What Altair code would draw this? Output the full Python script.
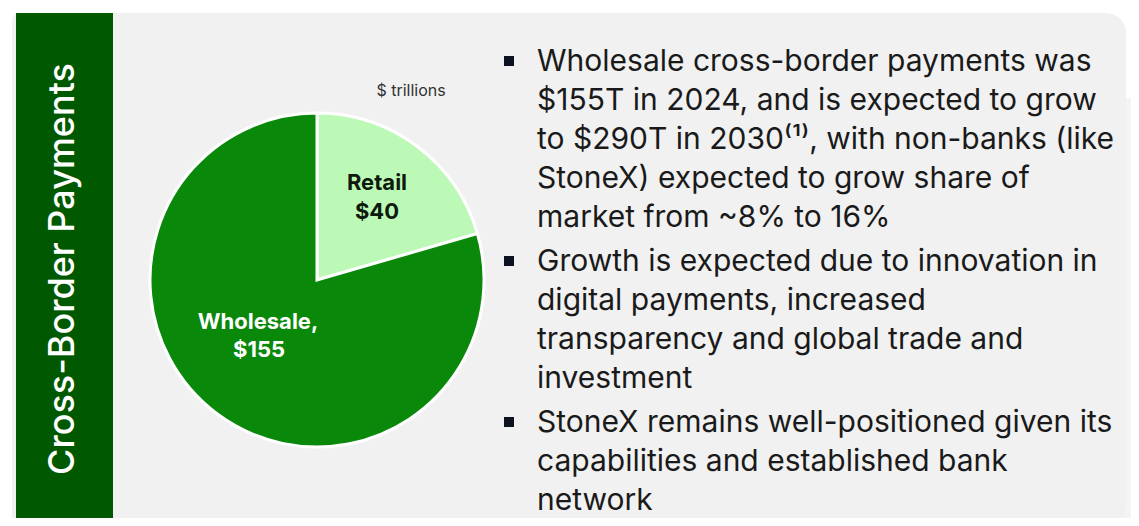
import altair as alt
import pandas as pd

W, H = 1123, 510

# ---- data ----
segments = ["Retail", "Wholesale"]
values = [40, 155]
seg_colors = ["#bdf9b6", "#0a880a"]

bullet_lines = [
    "Wholesale cross-border payments was",
    "$155T in 2024, and is expected to grow",
    "to $290T in 2030\u207d\u00b9\u207e, with non-banks (like",
    "StoneX) expected to grow share of",
    "market from ~8% to 16%",
    "Growth is expected due to innovation in",
    "digital payments, increased",
    "transparency and global trade and",
    "investment",
    "StoneX remains well-positioned given its",
    "capabilities and established bank",
    "network",
]
line_y = [54, 93, 132, 171, 210, 254, 293, 332, 371, 415, 454, 493]
bullet_y = [53, 253, 414]

pie_labels = ["Retail", "$40", "Wholesale,", "$155"]
pie_label_x = [369, 369, 250, 251]
pie_label_y = [175, 204, 314, 342]
pie_label_color = ["#0d1a0d", "#0d1a0d", "#ffffff", "#ffffff"]

title_text = "Cross-Border Payments"
unit_text = "$ trillions"

# ---- tables ----
pie_df = pd.DataFrame({"segment": segments, "value": values, "order": [0, 1]})
lines_df = pd.DataFrame({"text": bullet_lines, "x": [529] * len(bullet_lines), "y": line_y})
bul_df = pd.DataFrame({"x": [501] * len(bullet_y), "y": bullet_y})
plab_df = pd.DataFrame({"text": pie_labels, "x": pie_label_x, "y": pie_label_y, "c": pie_label_color})
one = pd.DataFrame({"a": [0]})

xs = alt.Scale(domain=[0, W], nice=False, zero=False)
ys = alt.Scale(domain=[0, H], nice=False, zero=False, reverse=True)

back_card = alt.Chart(one).mark_rect(color="#f4f5f7", cornerRadius=20).encode(
    x=alt.value(1080), x2=alt.value(1140), y=alt.value(90), y2=alt.value(530)
)
panel = alt.Chart(one).mark_rect(
    color="#f1f1f1", cornerRadiusTopRight=20, cornerRadiusBottomRight=20, cornerRadiusTopLeft=8
).encode(x=alt.value(4), x2=alt.value(1118), y=alt.value(5), y2=alt.value(519))
banner = alt.Chart(one).mark_rect(color="#005800").encode(
    x=alt.value(8), x2=alt.value(105), y=alt.value(5), y2=alt.value(520)
)
title = alt.Chart(one).mark_text(
    text=title_text, angle=270, font="Inter", fontSize=36, fontWeight=500, color="#ffffff",
    align="center", baseline="middle"
).encode(x=alt.value(55), y=alt.value(261))

pie = alt.Chart(pie_df).mark_arc(outerRadius=167, stroke="#ffffff", strokeWidth=3).encode(
    theta=alt.Theta("value:Q", stack=True),
    color=alt.Color("segment:N", scale=alt.Scale(domain=segments, range=seg_colors), legend=None),
    order=alt.Order("order:Q"),
    x=alt.value(309), y=alt.value(272),
)

plabels = alt.Chart(plab_df).mark_text(
    font="Inter", fontSize=22, fontWeight="bold", align="center", baseline="middle"
).encode(
    x=alt.X("x:Q", scale=xs, axis=None),
    y=alt.Y("y:Q", scale=ys, axis=None),
    text="text:N",
    color=alt.Color("c:N", scale=None),
)

unit = alt.Chart(one).mark_text(
    text=unit_text, font="Inter", fontSize=16, color="#333333", align="center", baseline="middle"
).encode(x=alt.value(403), y=alt.value(83))

lines = alt.Chart(lines_df).mark_text(
    font="Inter", fontSize=30, color="#1a1a1a", align="left", baseline="middle"
).encode(
    x=alt.X("x:Q", scale=xs, axis=None),
    y=alt.Y("y:Q", scale=ys, axis=None),
    text="text:N",
)

bullets = alt.Chart(bul_df).mark_point(
    shape="square", size=100, fill="#0d1220", stroke="#0d1220", strokeWidth=0,
    filled=True, opacity=1, fillOpacity=1
).encode(
    x=alt.X("x:Q", scale=xs, axis=None),
    y=alt.Y("y:Q", scale=ys, axis=None),
)

chart = alt.layer(back_card, panel, banner, title, pie, plabels, unit, lines, bullets).properties(
    width=W, height=H, padding=0, background="#ffffff",
    autosize=alt.AutoSizeParams(type="none"),
).configure_view(stroke=None)

chart.save("out.html", embed_options={"renderer": "svg", "actions": False})
